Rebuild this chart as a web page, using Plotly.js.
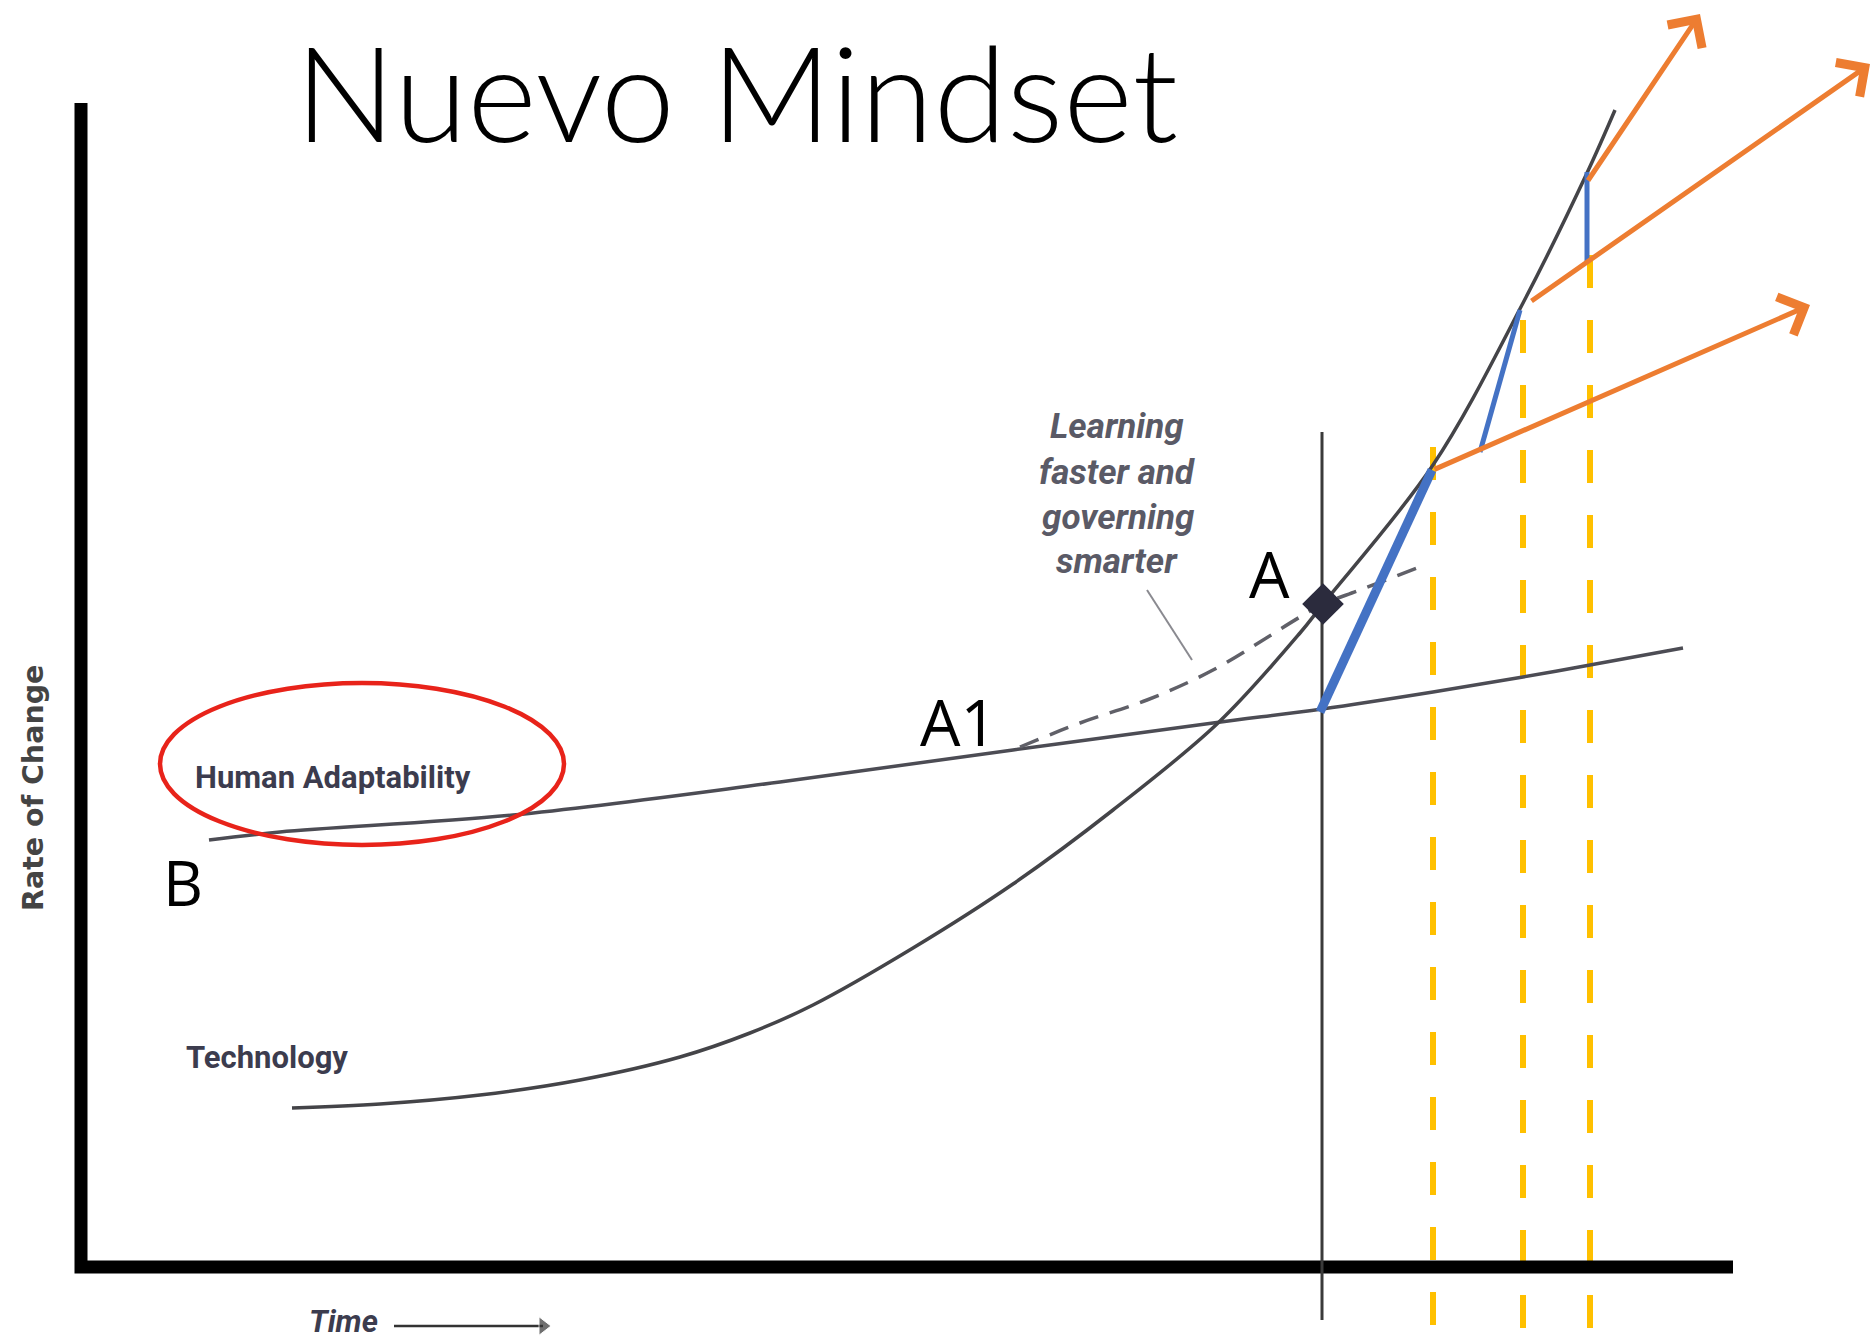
<!DOCTYPE html>
<html>
<head>
<meta charset="utf-8">
<script src="https://cdn.plot.ly/plotly-3.0.1.min.js"></script>
<style>html,body{margin:0;padding:0;background:#fff;}#chart{width:1873px;height:1343px;}</style>
</head>
<body>
<div id="chart"></div>
<script>
// ---- data (x = time units, y = rate-of-change units; origin at the axes corner) ----
const axisX = [0, 0, 165.2];
const axisY = [116.4, 0, 0];

const humanX = [12.8, 19.9, 43.2, 69.9, 93.2, 113.2, 124.1, 135.2, 144.2, 150.9, 160.2];
const humanY = [42.7, 43.5, 45.2, 48.5, 51.7, 54.4, 55.8, 57.5, 59.0, 60.2, 61.9];

const techX = [21.1, 29.9, 39.9, 49.9, 59.9, 66.9, 73.2, 83.2, 93.2, 103.2, 113.7, 121.9, 124.2, 135.2, 144.2, 150.6, 153.4];
const techY = [15.9, 16.3, 17.2, 18.7, 21.0, 23.4, 26.2, 31.9, 38.3, 45.7, 54.4, 63.4, 66.3, 80.2, 96.4, 109.4, 115.7];

const learnX = [93.9, 99.9, 106.6, 113.2, 121.9, 124.2, 127.9, 133.6];
const learnY = [52.0, 54.4, 56.7, 59.7, 65.0, 66.3, 67.7, 69.9];

const pointA = {x: [124.2], y: [66.3]};
const nowX = [124.1, 124.1];
const nowY = [83.5, -5.3];

const leaderX = [106.6, 111.1];
const leaderY = [67.7, 60.7];

const futureX = [135.2, 144.2, 150.9];
const futureTop = [82.0, 94.7, 101.2];
const futureBottom = -6.3;

const blueThickX = [123.9, 135.1], blueThickY = [55.5, 79.7];
const blueThin1X = [143.9, 139.9], blueThin1Y = [95.7, 81.5];
const blueThin2X = [150.6, 150.6], blueThin2Y = [109.5, 100.4];

const orangeTailX = [135.2, 144.9, 150.6];
const orangeTailY = [79.7, 96.5, 108.5];
const orangeTipX = [172.9, 178.9, 161.9];
const orangeTipY = [96.2, 120.3, 125.3];

const timeArrowX = [31.3, 46.2], timeArrowY = [-5.9, -5.9];

const ellipse = {x0: 7.9, x1: 48.3, y0: 42.2, y1: 58.4};

const labelFont = 'Roboto, "Open Sans", sans-serif';
const letterFont = '"Open Sans", Lato, sans-serif';
const labels = [
  {text: 'Nuevo Mindset', x: 65.5, y: 117.7, size: 133, family: 'Lato, "Open Sans", sans-serif', color: '#000', weight: 300},
  {text: '<b><i>Learning</i></b>', x: 103.6, y: 84.1, size: 35, family: labelFont, color: '#5a5a66'},
  {text: '<b><i>faster and</i></b>', x: 103.6, y: 79.5, size: 35, family: labelFont, color: '#5a5a66'},
  {text: '<b><i>governing</i></b>', x: 103.6, y: 75.0, size: 35, family: labelFont, color: '#5a5a66'},
  {text: '<b><i>smarter</i></b>', x: 103.6, y: 70.6, size: 35, family: labelFont, color: '#5a5a66'},
  {text: 'A', x: 118.8, y: 69.4, size: 64, family: letterFont, color: '#000'},
  {text: 'A1', x: 87.7, y: 54.6, size: 64, family: letterFont, color: '#000'},
  {text: 'B', x: 10.2, y: 38.5, size: 62, family: letterFont, color: '#000'},
  {text: '<b>Human Adaptability</b>', x: 25.2, y: 49.0, size: 31, family: labelFont, color: '#3c3c4e'},
  {text: '<b>Technology</b>', x: 18.6, y: 21.0, size: 31, family: labelFont, color: '#3c3c4e'},
  {text: '<b><i>Time</i></b>', x: 26.2, y: -5.4, size: 31, family: labelFont, color: '#3c3c4e'}
];
const yLabel = {text: '<b>Rate of Change</b>', x: -4.8, y: 47.9, size: 28.5};

// ---- traces ----
const traces = [];
futureX.forEach((fx, i) => {
  traces.push({x: [fx, fx], y: [futureTop[i], futureBottom], mode: 'lines',
    line: {color: '#FFC000', width: 6, dash: '33px,32px'}, hoverinfo: 'skip'});
});
traces.push({x: axisX, y: axisY, mode: 'lines', line: {color: '#000', width: 13}, hoverinfo: 'skip'});
traces.push({x: nowX, y: nowY, mode: 'lines', line: {color: '#3a3a3a', width: 3}, hoverinfo: 'skip'});
traces.push({x: humanX, y: humanY, mode: 'lines', line: {color: '#4c4c54', width: 3.5, shape: 'spline', smoothing: 1}, hoverinfo: 'skip'});
traces.push({x: techX, y: techY, mode: 'lines', line: {color: '#444448', width: 3.5, shape: 'spline', smoothing: 1}, hoverinfo: 'skip'});
traces.push({x: learnX, y: learnY, mode: 'lines', line: {color: '#606068', width: 3.5, dash: '20px,12px', shape: 'spline'}, hoverinfo: 'skip'});
traces.push({x: leaderX, y: leaderY, mode: 'lines', line: {color: '#8a8a90', width: 2}, hoverinfo: 'skip'});
traces.push({x: pointA.x, y: pointA.y, mode: 'markers', marker: {symbol: 'diamond', size: 32, color: '#2b2b3d'}, hoverinfo: 'skip'});
traces.push({x: blueThickX, y: blueThickY, mode: 'lines', line: {color: '#4472C4', width: 9}, hoverinfo: 'skip'});
traces.push({x: blueThin1X, y: blueThin1Y, mode: 'lines', line: {color: '#4472C4', width: 5}, hoverinfo: 'skip'});
traces.push({x: blueThin2X, y: blueThin2Y, mode: 'lines', line: {color: '#4472C4', width: 5}, hoverinfo: 'skip'});
traces.push({x: timeArrowX, y: timeArrowY, mode: 'lines+markers', line: {color: '#333', width: 2.5},
  marker: {symbol: 'triangle-right', size: [0, 16], color: '#333'}, hoverinfo: 'skip'});

// ---- annotations ----
const annotations = labels.map(l => ({
  text: l.text, x: l.x, y: l.y, xref: 'x', yref: 'y', showarrow: false,
  xanchor: 'center', yanchor: 'middle', align: 'center',
  font: Object.assign({family: l.family, size: l.size, color: l.color}, l.weight ? {weight: l.weight} : {})
}));
annotations.push({text: yLabel.text, x: yLabel.x, y: yLabel.y, xref: 'x', yref: 'y', showarrow: false,
  textangle: -90, font: {family: '"DejaVu Sans", sans-serif', size: yLabel.size, color: '#444'}});
orangeTipX.forEach((tx, i) => {
  annotations.push({x: tx, y: orangeTipY[i], ax: orangeTailX[i], ay: orangeTailY[i],
    xref: 'x', yref: 'y', axref: 'x', ayref: 'y', text: '', showarrow: true,
    arrowhead: 4, arrowsize: 1.6, arrowwidth: 5, arrowcolor: '#ED7D31', standoff: 0, startstandoff: 0});
});

const layout = {
  width: 1873, height: 1343,
  margin: {l: 0, r: 0, t: 0, b: 0, pad: 0},
  paper_bgcolor: '#ffffff', plot_bgcolor: '#ffffff',
  showlegend: false,
  xaxis: {range: [-8.1, 179.2], visible: false, fixedrange: true},
  yaxis: {range: [-7.6, 126.7], visible: false, fixedrange: true},
  shapes: [{type: 'circle', xref: 'x', yref: 'y', x0: ellipse.x0, x1: ellipse.x1, y0: ellipse.y0, y1: ellipse.y1,
    line: {color: '#E8231A', width: 4.5}, layer: 'above'}],
  annotations: annotations
};

Plotly.newPlot('chart', traces, layout, {displayModeBar: false, staticPlot: true});
</script>
</body>
</html>
